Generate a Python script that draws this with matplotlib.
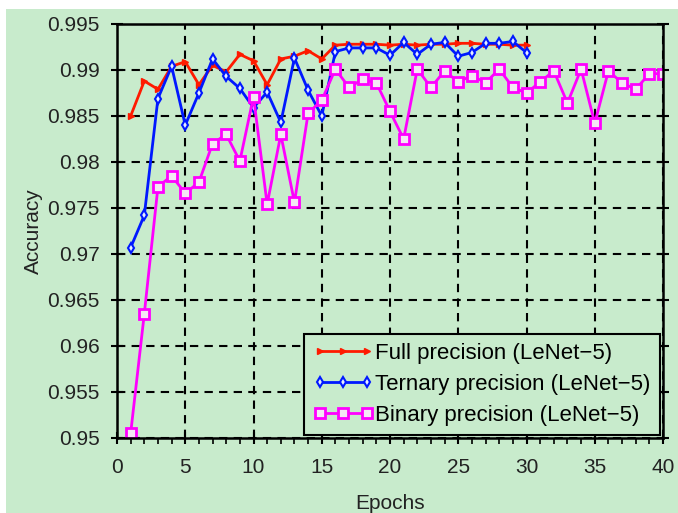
import numpy as np
import matplotlib.pyplot as plt
from matplotlib.ticker import MultipleLocator
from matplotlib.patches import Rectangle

plt.rcParams['font.family'] = ['Liberation Sans', 'DejaVu Sans']
size_labels = 15
bg = '#c8ebcc'

# accuracy per epoch
epochs_full = np.arange(1, 31)
acc_full = [0.9850, 0.9888, 0.9879, 0.9904, 0.9909, 0.9884, 0.9905, 0.9898, 0.9917, 0.9910,
            0.9884, 0.9912, 0.9915, 0.9921, 0.9912, 0.9927, 0.9928, 0.9928, 0.9928, 0.9927,
            0.9928, 0.9927, 0.9928, 0.9928, 0.9929, 0.9929, 0.9928, 0.9928, 0.9927, 0.9927]

epochs_ternary = np.arange(1, 31)
acc_ternary = [0.9707, 0.9742, 0.9869, 0.9904, 0.9840, 0.9875, 0.9912, 0.9893, 0.9880, 0.9859,
               0.9876, 0.9843, 0.9913, 0.9878, 0.9850, 0.9920, 0.9924, 0.9924, 0.9924, 0.9916,
               0.9930, 0.9917, 0.9928, 0.9930, 0.9915, 0.9919, 0.9929, 0.9929, 0.9931, 0.9919]

epochs_binary = np.arange(1, 41)
acc_binary = [0.9505, 0.9635, 0.9773, 0.9785, 0.9766, 0.9778, 0.9820, 0.9830, 0.9801, 0.9871,
              0.9754, 0.9830, 0.9756, 0.9853, 0.9867, 0.9901, 0.9881, 0.9890, 0.9886, 0.9855,
              0.9825, 0.9901, 0.9881, 0.9899, 0.9887, 0.9894, 0.9886, 0.9901, 0.9881, 0.9875,
              0.9887, 0.9899, 0.9864, 0.9901, 0.9842, 0.9899, 0.9886, 0.9879, 0.9896, 0.9896]

fig = plt.figure(figsize=(6.78, 5.13), dpi=100)
fig.patch.set_facecolor('white')
fig.patches.append(Rectangle((6 / 678, 0), 1, 1 - 9 / 513, transform=fig.transFigure,
                             facecolor=bg, edgecolor='none', zorder=-10))
ax = fig.add_axes([117 / 678, 1 - 438 / 513, (663 - 117) / 678, (438 - 24) / 513])
ax.set_facecolor(bg)

ax.plot(epochs_full, acc_full, color='#ff1a00', lw=2, marker='>', ms=4,
        label='Full precision (LeNet\u22125)')
ax.plot(epochs_ternary, acc_ternary, color='#0018ff', lw=2, marker='d', ms=5,
        mfc='#e8f0ff', mew=1.5, label='Ternary precision (LeNet\u22125)')
ax.plot(epochs_binary, acc_binary, color='#ff00ff', lw=2, marker='s', ms=7,
        mfc='#f4e8f4', mew=2, label='Binary precision (LeNet\u22125)')

ax.set_xlim(0, 40)
ax.set_ylim(0.95, 0.995)
ax.xaxis.set_major_locator(MultipleLocator(5))
ax.xaxis.set_minor_locator(MultipleLocator(1))
ax.yaxis.set_major_locator(MultipleLocator(0.005))
ax.yaxis.set_major_formatter(plt.FuncFormatter(lambda v, p: ('%.3f' % v).rstrip('0')))
ax.grid(True, which='major', color='k', linestyle=(0, (4, 3)), lw=1.5)
ax.tick_params(which='major', direction='inout', length=9, width=1.5,
               labelsize=size_labels, colors='k', labelcolor='#222222')
ax.tick_params(axis='x', which='major', pad=10)
ax.tick_params(axis='y', which='major', right=True, pad=8)
ax.tick_params(which='minor', direction='out', length=4, width=1.2)
for s in ax.spines.values():
    s.set_linewidth(1.8)

ax.set_xlabel('Epochs', size=size_labels, labelpad=12, color='#222222')
ax.set_ylabel('Accuracy', size=size_labels, labelpad=3, color='#222222')

leg = ax.legend(loc='lower right', fontsize=16, numpoints=3, handlelength=2.7,
                handletextpad=0.1, borderpad=0.4, labelspacing=0.45, borderaxespad=0.15,
                fancybox=False, framealpha=1, facecolor=bg, edgecolor='k')
leg.get_frame().set_linewidth(1.5)

fig.savefig('out.png', dpi=100, facecolor=fig.get_facecolor())
